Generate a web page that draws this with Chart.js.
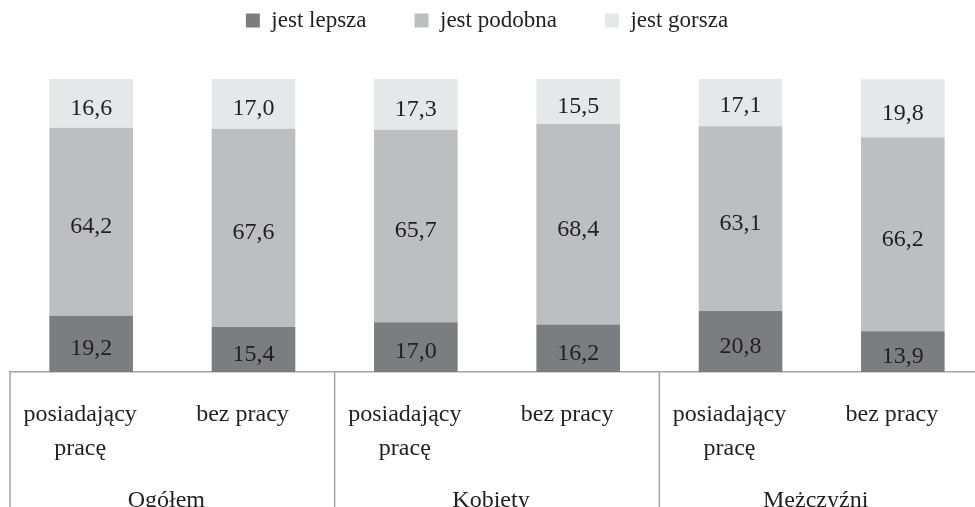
<!DOCTYPE html>
<html lang="pl">
<head>
<meta charset="utf-8">
<title>Ocena sytuacji</title>
<script src="https://cdn.jsdelivr.net/npm/chart.js@4/dist/chart.umd.min.js"></script>
<style>
  html, body { margin: 0; padding: 0; background: #fff; overflow: hidden; }
  #wrap { width: 990px; height: 507px; }
</style>
</head>
<body>
<div id="wrap"><canvas id="chart" width="990" height="507"></canvas></div>
<script>
// data
const groups = ['Ogółem', 'Kobiety', 'Mężczyźni'];
const categories = [
    ['posiadający', 'pracę'], 'bez pracy',
    ['posiadający', 'pracę'], 'bez pracy',
    ['posiadający', 'pracę'], 'bez pracy'
];
const seriesNames = ['jest lepsza', 'jest podobna', 'jest gorsza'];
const lepsza = [19.2, 15.4, 17.0, 16.2, 20.8, 13.9];
const podobna = [64.2, 67.6, 65.7, 68.4, 63.1, 66.2];
const gorsza = [16.6, 17.0, 17.3, 15.5, 17.1, 19.8];

const colors = ['#7c7d81', '#bdbec2', '#e6e7e9'];
const textColor = '#231f20';
const lineColor = '#a3a3a3';
const serif = "'Liberation Serif', 'Times New Roman', serif";

// extra room under the legend, and nudge it a bit to the left
const legendSpacing = {
    id: 'legendSpacing',
    beforeInit(chart) {
        const origFit = chart.legend.fit;
        chart.legend.fit = function fit() {
            origFit.bind(chart.legend)();
            this.height += 37;
            this.lineWidths[0] += 20;
        };
    }
};

// value labels in the middle of each segment
const segmentLabels = {
    id: 'segmentLabels',
    afterDatasetsDraw(chart) {
        const ctx = chart.ctx;
        ctx.save();
        ctx.font = '24px ' + serif;
        ctx.fillStyle = textColor;
        ctx.textAlign = 'center';
        ctx.textBaseline = 'middle';
        chart.data.datasets.forEach((ds, i) => {
            chart.getDatasetMeta(i).data.forEach((bar, j) => {
                const txt = ds.data[j].toFixed(1).replace('.', ',');
                ctx.fillText(txt, bar.x, (bar.y + bar.base) / 2 + 5);
            });
        });
        ctx.restore();
    }
};

// group labels and separators under the axis
const groupAxis = {
    id: 'groupAxis',
    afterDraw(chart) {
        const ctx = chart.ctx;
        const x = chart.scales.x;
        const step = x.getPixelForValue(1) - x.getPixelForValue(0);
        ctx.save();
        ctx.strokeStyle = lineColor;
        ctx.lineWidth = 1.5;
        ctx.font = '24px ' + serif;
        ctx.fillStyle = textColor;
        ctx.textAlign = 'center';
        ctx.textBaseline = 'middle';
        groups.forEach((g, gi) => {
            const left = x.getPixelForValue(gi * 2) - step / 2;
            ctx.beginPath();
            ctx.moveTo(left, x.top);
            ctx.lineTo(left, chart.height);
            ctx.stroke();
            const mid = (x.getPixelForValue(gi * 2) + x.getPixelForValue(gi * 2 + 1)) / 2;
            ctx.fillText(g, mid - 6, x.top + 129);
        });
        ctx.restore();
    }
};

const chart = new Chart(document.getElementById('chart'), {
    type: 'bar',
    data: {
        labels: categories,
        datasets: [
            { label: seriesNames[0], data: lepsza, backgroundColor: colors[0] },
            { label: seriesNames[1], data: podobna, backgroundColor: colors[1] },
            { label: seriesNames[2], data: gorsza, backgroundColor: colors[2] }
        ]
    },
    options: {
        responsive: false,
        animation: false,
        devicePixelRatio: 1,
        layout: { padding: { top: -39, left: 10, right: 6, bottom: 0 } },
        datasets: {
            bar: { categoryPercentage: 1, barPercentage: 0.515, borderWidth: 0 }
        },
        plugins: {
            legend: {
                position: 'top',
                labels: {
                    boxWidth: 14,
                    boxHeight: 14,
                    padding: 48,
                    color: textColor,
                    font: { family: serif, size: 23 }
                }
            },
            tooltip: { enabled: false }
        },
        scales: {
            x: {
                stacked: true,
                grid: { display: false, drawTicks: false },
                border: { display: true, color: lineColor, width: 1.5 },
                ticks: {
                    color: textColor,
                    font: { family: serif, size: 24, lineHeight: 1.42 },
                    padding: 26,
                    labelOffset: -11,
                    maxRotation: 0,
                    autoSkip: false
                },
                afterFit: (scale) => { scale.height = 135; }
            },
            y: {
                stacked: true,
                display: false,
                min: 0,
                max: 100
            }
        }
    },
    plugins: [legendSpacing, segmentLabels, groupAxis]
});
</script>
</body>
</html>
